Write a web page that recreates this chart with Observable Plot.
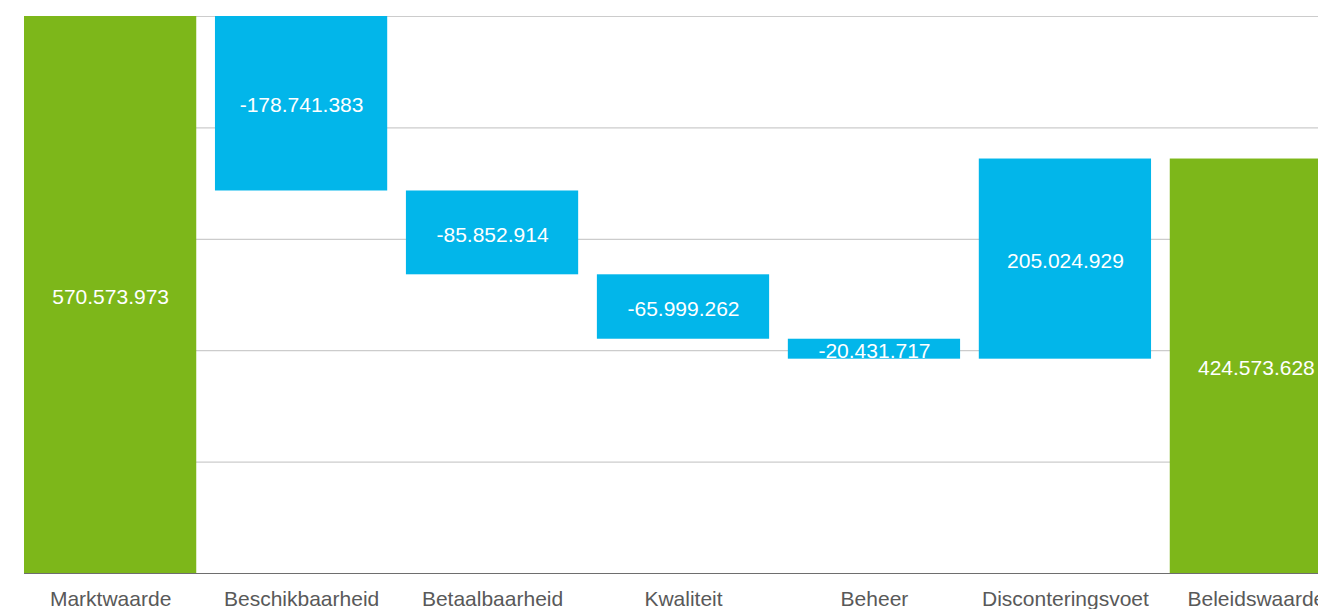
<!DOCTYPE html>
<html>
<head>
<meta charset="utf-8">
<script src="https://cdn.jsdelivr.net/npm/d3@7"></script>
<script src="https://cdn.jsdelivr.net/npm/@observablehq/plot@0.6"></script>
<style>
  html, body { margin: 0; padding: 0; background: #fff; overflow: hidden; }
  #chart svg { display: block; max-width: none; }
</style>
</head>
<body>
<div id="chart"></div>
<script>
const categories = ["Marktwaarde", "Beschikbaarheid", "Betaalbaarheid", "Kwaliteit", "Beheer", "Disconteringsvoet", "Beleidswaarde"];
const values = [570573973, -178741383, -85852914, -65999262, -20431717, 205024929, 424573628];
const kinds = ["total", "delta", "delta", "delta", "delta", "delta", "total"];
const gridValues = [0, 114114795, 228229589, 342344384, 456459178, 570573973];

const colors = {total: "#7db71a", delta: "#02b6ea"};

const nl = d3.formatLocale({decimal: ",", thousands: ".", grouping: [3], currency: ["€", ""], minus: "-"});
const fmt = nl.format(",d");

let running = 0;
const rows = categories.map((c, i) => {
  let y1, y2;
  if (kinds[i] === "total") { y1 = 0; y2 = values[i]; running = values[i]; }
  else { y1 = running; y2 = running + values[i]; running = y2; }
  return {category: c, value: values[i], kind: kinds[i], y1, y2, mid: (y1 + y2) / 2};
});

const font = "'Liberation Sans', Arial, Helvetica, sans-serif";

const chart = Plot.plot({
  width: 1362,
  height: 613,
  marginTop: 16,
  marginBottom: 40,
  marginLeft: 24,
  marginRight: 20,
  style: {fontFamily: font, background: "#fff", overflow: "visible"},
  x: {domain: categories, paddingInner: 0.098, paddingOuter: 0, round: false, label: null},
  y: {domain: [0, 570573973], axis: null},
  marks: [
    Plot.ruleY(gridValues.slice(1), {stroke: "#cccccc", strokeWidth: 1.2}),
    Plot.barY(rows, {x: "category", y1: "y1", y2: "y2", fill: d => colors[d.kind]}),
    Plot.ruleY([0], {stroke: "#6e6e6e", strokeWidth: 1.2}),
    Plot.text(rows, {x: "category", y: "mid", text: d => fmt(d.value), fill: "#ffffff", fontSize: 21, dy: 2}),
    Plot.axisX({tickSize: 0, tickPadding: 18, fontSize: 21, color: "#595959", fill: "#595959", label: null})
  ]
});

document.getElementById("chart").appendChild(chart);
</script>
</body>
</html>
